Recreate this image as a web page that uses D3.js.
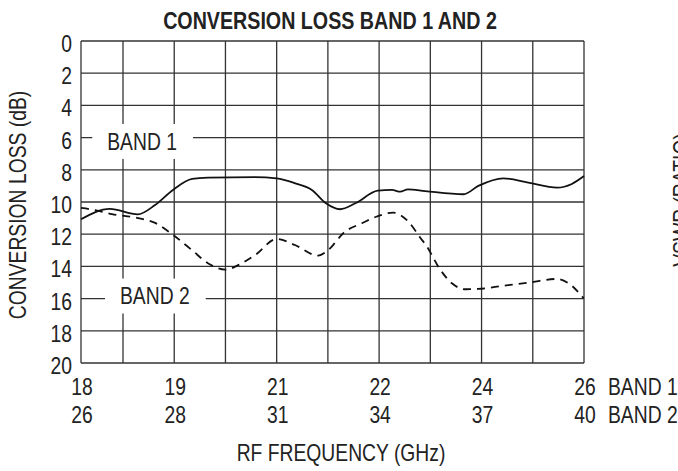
<!DOCTYPE html>
<html>
<head>
    <meta charset="utf-8">
    <title></title>
    <style>
        body { margin: 0; background: #fff; }
        text {
            font-family: "Liberation Sans", Arial, sans-serif;
            fill: #222;
        }
        .grid line { stroke: #333; stroke-width: 1.3px; }
        .curve { fill: none; stroke: #111; stroke-width: 1.8px; }
    </style>
</head>
<body>
    <script src="https://cdn.jsdelivr.net/npm/d3@7"></script>
    <script>
        // band 1 (solid): RF freq (GHz) vs conversion loss (dB)
        var band1Freq = [18.0, 18.55, 19.03, 19.3, 19.58, 19.88, 20.13, 20.86, 21.2, 21.49, 21.75, 21.97, 22.19,
            22.43, 22.78, 23.0, 23.13, 23.25, 23.52, 24.12, 24.35, 24.74, 25.13, 25.58, 25.81, 26.0];
        var band1Loss = [11.07, 10.43, 10.77, 10.19, 9.25, 8.57, 8.49, 8.45, 8.53, 8.84, 9.25, 10.08, 10.45,
            10.08, 9.3, 9.25, 9.36, 9.21, 9.32, 9.52, 9.0, 8.53, 8.8, 9.11, 8.88, 8.39];
        // band 2 (dashed)
        var band2Freq = [26.0, 26.47, 27.03, 27.81, 28.28, 28.77, 29.29, 29.72, 30.19, 30.65, 31.01, 31.6, 32.1,
            32.73, 32.95, 33.47, 33.93, 34.34, 34.78, 35.2, 35.52, 35.7, 36.07, 36.39, 36.75, 37.1, 37.8, 38.5,
            39.26, 39.58, 39.99];
        var band2Loss = [10.37, 10.5, 10.75, 11.0, 11.3, 12.05, 13.0, 13.8, 14.2, 13.8, 13.3, 12.3, 12.67,
            13.33, 13.1, 11.84, 11.32, 10.9, 10.66, 11.22, 12.2, 12.75, 14.2, 15.05, 15.42, 15.4, 15.2, 15.0,
            14.78, 15.05, 15.98];
        var band1Ticks = ["18", "19", "21", "22", "24", "26"];
        var band2Ticks = ["26", "28", "31", "34", "37", "40"];
        var yTicks = [0, 2, 4, 6, 8, 10, 12, 14, 16, 18, 20];

        var width = 678, height = 471;
        var pLeft = 81, pRight = 584, pTop = 41, pBottom = 363;
        var squeeze = 0.84; // condensed look of the original type
        var fs = 23;

        var svg = d3.select("body").append("svg")
            .attr("width", width)
            .attr("height", height);

        // first grid division of the original is narrower
        var x1 = d3.scaleLinear().domain([18, 18.8, 26]).range([pLeft, pLeft + 42, pRight]);
        var x2 = d3.scaleLinear().domain([26, 27.4, 40]).range([pLeft, pLeft + 42, pRight]);
        var y = d3.scaleLinear().domain([0, 20]).range([pTop, pBottom]);

        var gridF = d3.range(11).map(function(i) { return 18 + 0.8 * i; });

        function tr(x, yy, rot, k) {
            return "translate(" + x + "," + yy + ")" + (rot ? " rotate(" + rot + ")" : "") + " scale(" + (k || squeeze) + ",1)";
        }
        function label(x, yy, str, anchor, size, rot) {
            return svg.append("text")
                .attr("transform", tr(x, yy, rot))
                .attr("text-anchor", anchor || "start")
                .attr("font-size", size || fs)
                .text(str);
        }

        var grid = svg.append("g").attr("class", "grid");
        grid.selectAll(".v").data(gridF).enter().append("line")
            .attr("x1", function(d) { return x1(d); })
            .attr("x2", function(d) { return x1(d); })
            .attr("y1", pTop).attr("y2", pBottom);
        grid.selectAll(".h").data(yTicks).enter().append("line")
            .attr("x1", pLeft).attr("x2", pRight)
            .attr("y1", function(d) { return y(d); })
            .attr("y2", function(d) { return y(d); });

        // curves
        var line = d3.line().curve(d3.curveMonotoneX);
        svg.append("path").attr("class", "curve")
            .attr("d", line(band1Freq.map(function(f, i) { return [x1(f), y(band1Loss[i])]; })));
        svg.append("path").attr("class", "curve")
            .attr("stroke-dasharray", "8,6")
            .attr("d", line(band2Freq.map(function(f, i) { return [x2(f), y(band2Loss[i])]; })));

        // band labels with white knockouts
        function bandLabel(txt, xv, yv) {
            var g = svg.append("g").attr("transform", "translate(" + xv + "," + (yv + 12) + ")");
            var r = g.append("rect").attr("fill", "#fff");
            var t = g.append("text")
                .attr("transform", "scale(" + squeeze + ",1)")
                .attr("font-size", fs)
                .text(txt);
            var b = t.node().getBBox();
            r.attr("x", b.x * squeeze - 15).attr("y", b.y - 5)
                .attr("width", b.width * squeeze + 31).attr("height", b.height + 10);
        }
        bandLabel("BAND 1", x1(18.5), y(6));
        bandLabel("BAND 2", x2(27.3), y(15.6));

        // y tick labels
        svg.append("g").selectAll("text").data(yTicks).enter().append("text")
            .attr("transform", function(d) { return tr(pLeft - 9, y(d) + 11); })
            .attr("text-anchor", "end")
            .attr("font-size", fs)
            .text(function(d) { return d; });

        // x tick labels, two rows
        var tickAt = gridF.filter(function(d, i) { return i % 2 == 0; });
        svg.append("g").selectAll("text").data(tickAt).enter().append("text")
            .attr("transform", function(d) { return tr(x1(d) + 1, 395); })
            .attr("text-anchor", "middle")
            .attr("font-size", fs)
            .text(function(d, i) { return band1Ticks[i]; });
        svg.append("g").selectAll("text").data(tickAt).enter().append("text")
            .attr("transform", function(d) { return tr(x1(d) + 1, 423); })
            .attr("text-anchor", "middle")
            .attr("font-size", fs)
            .text(function(d, i) { return band2Ticks[i]; });
        label(608, 395, "BAND 1");
        label(608, 423, "BAND 2");

        // titles
        label(330, 29, "CONVERSION LOSS BAND 1 AND 2", "middle", 24).attr("font-weight", "bold")
            .attr("transform", tr(330, 29, 0, 0.82));
        label(341, 461, "RF FREQUENCY (GHz)", "middle");
        label(26, 205, "CONVERSION LOSS (dB)", "middle", fs, -90);
        // neighbouring chart's axis title, cut by the edge
        label(690, 200, "VSWR (RATIO)", "middle", fs, -90);
    </script>
</body>
</html>
